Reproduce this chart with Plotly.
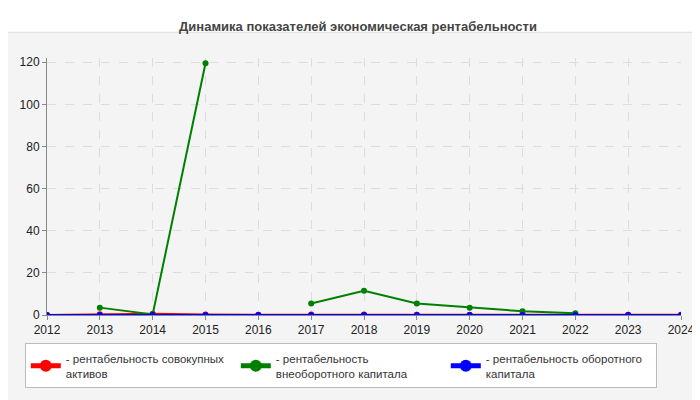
import plotly.graph_objects as go

years = list(range(2012, 2025))
red_vals = [0, 0.4, 0.6, 0.2, 0.1, 0.2, 0.2, 0.1, 0.1, 0.1, 0.1, 0.1, 0.1]
green_vals = [None, 3.5, 0.3, 119.5, None, 5.5, 11.5, 5.5, 3.5, 1.8, 0.8, None, None]
blue_vals = [0] * 13
names = ["- рентабельность совокупных<br>активов",
         "- рентабельность<br>внеоборотного капитала",
         "- рентабельность оборотного<br>капитала"]

fig = go.Figure()
for vals, col, nm in [(red_vals, "#ff0000", names[0]),
                      (green_vals, "#008000", names[1]),
                      (blue_vals, "#0000ff", names[2])]:
    fig.add_trace(go.Scatter(x=years, y=vals, name=nm, mode="lines+markers",
                             line=dict(color=col, width=2), marker=dict(size=6, color=col)))

fig.update_layout(
    width=700, height=400,
    margin=dict(l=37, r=27, t=50, b=93),
    paper_bgcolor="white", plot_bgcolor="#fdfdf8",
    font=dict(family="Liberation Sans, Arial", size=12, color="#333"),
    title=dict(text="<b>Динамика показателей экономическая рентабельности</b>",
               x=0.5, y=0.965, font=dict(size=13, color="#444")),
    showlegend=True,
    legend=dict(orientation="h", x=-0.035, y=-0.11, xanchor="left", yanchor="top",
                bgcolor="white", bordercolor="#bbb", borderwidth=1,
                font=dict(size=11.5, color="#333"), entrywidth=165, itemsizing="constant",
                itemwidth=30),
    xaxis=dict(range=[2012, 2024], dtick=1, showgrid=True, gridcolor="#ddd", griddash="dash",
               linecolor="#888", showline=True, ticks="outside", ticklen=4, tickcolor="#888",
               tickfont=dict(size=12, color="#222")),
    yaxis=dict(range=[0, 122], dtick=20, showgrid=True, gridcolor="#ddd", griddash="dash",
               linecolor="#888", showline=True, zeroline=False, ticks="outside", ticklen=4,
               tickcolor="#888", tickfont=dict(size=12, color="#222")),
    shapes=[dict(type="rect", xref="paper", yref="paper", x0=-0.065, x1=1.045, y0=-0.39, y1=1.1,
                 line=dict(color="#ddd", width=1), fillcolor="#f4f4f4", layer="below")],
)
fig.write_html("out.html")
